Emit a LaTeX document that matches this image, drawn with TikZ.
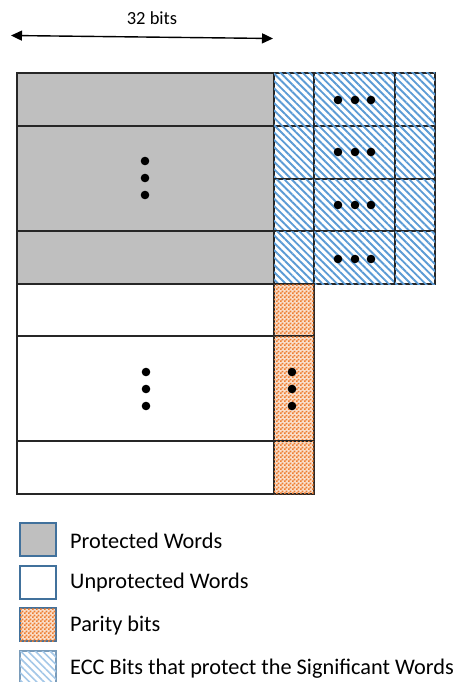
\documentclass[tikz,border=0pt]{standalone}
\usepackage{fontspec}
\setmainfont{Carlito}
\usetikzlibrary{arrows.meta,patterns,patterns.meta}
\definecolor{protgray}{HTML}{BFBFBF}
\definecolor{eccblue}{HTML}{5B9BD5}
\definecolor{parorange}{HTML}{ED7D31}
\definecolor{legendedge}{HTML}{41719C}
% fine checkerboard with 2pt squares
\pgfdeclarepatternformonly{finechecks}{\pgfpointorigin}{\pgfqpoint{4pt}{4pt}}{\pgfqpoint{4pt}{4pt}}{%
  \pgfpathrectangle{\pgfpointorigin}{\pgfqpoint{2pt}{2pt}}%
  \pgfpathrectangle{\pgfqpoint{2pt}{2pt}}{\pgfqpoint{2pt}{2pt}}%
  \pgfusepath{fill}}
\tikzset{
  cell/.style={draw=black!85, line width=1.3pt},
  protected/.style={cell, fill=protgray},
  unprotected/.style={cell, fill=white},
  parity/.style={cell, fill=parorange!25, postaction={pattern=finechecks, pattern color=parorange}},
  ecc/.style={cell, fill=white, postaction={pattern={Lines[angle=-45,distance=5.2pt,line width=1.9pt]}, pattern color=eccblue}},
  legendbox/.style={draw=legendedge, line width=2.2pt},
  legendtext/.style={anchor=west, inner sep=0pt, font=\fontsize{22.3}{26}\selectfont},
  dot/.style={fill=black, draw=none},
  dimarrow/.style={{Triangle[length=11pt,width=10pt]}-{Triangle[length=11pt,width=10pt]}, line width=1.4pt}
}
\begin{document}
\begin{tikzpicture}[x=1pt,y=-1pt]
\useasboundingbox (0,0) rectangle (452,682);

% word width marker
\coordinate (wl) at (11,35.5);
\coordinate (wr) at (273,38.5);
\draw[dimarrow] (wl) -- (wr);
\node[font=\fontsize{18.5}{22}\selectfont, inner sep=0pt] (wlabel) at (152,18) {32 bits};

% protected words
\draw[protected] (17,73) rectangle (274,126);
\draw[protected] (17,126) rectangle (274,231);
\draw[protected] (17,231) rectangle (274,284);

% ECC bits for the protected words
\foreach \ya/\yb in {73/126,126/179,179/231,231/284}{
  \draw[ecc] (274,\ya) rectangle (314,\yb);
  \draw[ecc] (314,\ya) rectangle (395,\yb);
  \draw[ecc] (395,\ya) rectangle (435,\yb);
}

% unprotected words
\draw[unprotected] (17,284) rectangle (274,336);
\draw[unprotected] (17,336) rectangle (274,441);
\draw[unprotected] (17,441) rectangle (274,494);

% parity bits
\draw[parity] (274,284) rectangle (314,336);
\draw[parity] (274,336) rectangle (314,441);
\draw[parity] (274,441) rectangle (314,494);

% ellipsis dots
\foreach \y in {161,178,195}{\fill[dot] (145,\y) circle (4.3);}
\foreach \y in {372,389,406}{\fill[dot] (146,\y) circle (4.3);}
\foreach \y in {372,389,406}{\fill[dot] (292,\y) circle (4.3);}
\foreach \y in {100,152,205,259}{
  \foreach \x in {338,355,371}{\fill[dot] (\x,\y) circle (4.3);}
}

% legend
\draw[legendbox, fill=protgray] (20,523) rectangle (56,556);
\draw[legendbox, fill=white] (20,566) rectangle (56,599);
\draw[legendbox, fill=parorange!25, postaction={pattern=finechecks, pattern color=parorange}] (20,608) rectangle (56,641);
\draw[legendbox, draw=legendedge!70, fill=white, postaction={pattern={Lines[angle=-45,distance=5.2pt,line width=1.6pt]}, pattern color=eccblue!55}] (20,651) rectangle (56,685);
\node[legendtext] (lprot) at (70,541) {Protected Words};
\node[legendtext] (lunprot) at (70,583) {Unprotected Words};
\node[legendtext] (lpar) at (70,626) {Parity bits};
\node[legendtext] (lecc) at (70,669) {ECC Bits that protect the Significant Words};
\end{tikzpicture}
\end{document}
